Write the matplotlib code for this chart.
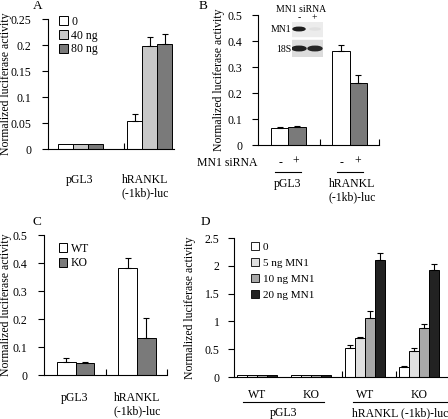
import matplotlib
matplotlib.use('Agg')
import matplotlib.pyplot as plt
from matplotlib.patches import Patch, Rectangle, Ellipse

plt.rcParams['font.family'] = ['Liberation Serif', 'DejaVu Serif']
plt.rcParams['font.size'] = 8.5

# ---- data ----
# A: MN1 dose
a_groups = ['pGL3', 'hRANKL\n(-1kb)-luc']
a_series = ['0', '40 ng', '80 ng']
a_vals = [[0.010, 0.053], [0.010, 0.199], [0.010, 0.202]]
a_err = [[0.0, 0.014], [0.0, 0.017], [0.0, 0.020]]

# B: MN1 siRNA
b_groups = ['pGL3', 'hRANKL\n(-1kb)-luc']
b_series = ['-', '+']
b_vals = [[0.065, 0.360], [0.068, 0.240]]
b_err = [[0.004, 0.026], [0.006, 0.028]]

# C: WT / KO
c_groups = ['pGL3', 'hRANKL\n(-1kb)-luc']
c_series = ['WT', 'KO']
c_vals = [[0.048, 0.382], [0.044, 0.133]]
c_err = [[0.013, 0.037], [0.004, 0.069]]

# D: WT / KO with MN1 dose
d_groups = ['WT', 'KO', 'WT', 'KO']
d_super = ['pGL3', 'hRANKL (-1kb)-luc']
d_series = ['0', '5 ng MN1', '10 ng MN1', '20 ng MN1']
d_vals = [[0.04, 0.04, 0.52, 0.18],
          [0.04, 0.04, 0.71, 0.46],
          [0.04, 0.04, 1.07, 0.88],
          [0.04, 0.04, 2.10, 1.93]]
d_err = [[0, 0, 0.05, 0.02],
         [0, 0, 0.01, 0.065],
         [0, 0, 0.11, 0.07],
         [0, 0, 0.13, 0.11]]

W, H = 448, 419
fig = plt.figure(figsize=(W / 100, H / 100), dpi=100)
fig.patch.set_facecolor('white')


def px_axes(left, top, right, bottom):
    return fig.add_axes([left / W, 1 - bottom / H, (right - left) / W, (bottom - top) / H])


def ftext(x, y, s, **kw):
    kw.setdefault('ha', 'center')
    kw.setdefault('va', 'center')
    fig.text(x / W, 1 - y / H, s, **kw)


def style(ax, ymax, step, xmax, xticks, pad, fmt):
    for s in ['top', 'right']:
        ax.spines[s].set_visible(False)
    for s in ['left', 'bottom']:
        ax.spines[s].set_linewidth(0.8)
    ax.set_xlim(0, xmax)
    ax.set_ylim(0, ymax)
    yt = [i * step for i in range(int(round(ymax / step)) + 1)]
    ax.set_yticks(yt)
    ax.set_yticklabels([fmt(v) for v in yt])
    ax.tick_params(axis='y', direction='out', length=4, width=0.8, pad=pad, labelsize=8.5)
    ax.set_xticks(xticks)
    ax.set_xticklabels([])
    ax.tick_params(axis='x', direction='in', length=4, width=0.8)


def draw_bars(ax, vals, errs, colors, centers, bw):
    n = len(vals)
    for i in range(n):
        xs = [c + (i - (n - 1) / 2) * bw for c in centers]
        ax.bar(xs, vals[i], bw, color=colors[i], edgecolor='black', linewidth=0.7, zorder=2)
        for x, v, e in zip(xs, vals[i], errs[i]):
            if e > 0:
                ax.errorbar(x, v, yerr=[[0], [e]], fmt='none', ecolor='black',
                            elinewidth=0.8, capsize=2.2, capthick=0.8, zorder=3)


def num(v):
    s = ('%.2f' % v).rstrip('0').rstrip('.')
    return s if s else '0'


# ---- A ----
axA = px_axes(48, 19, 174, 149)
style(axA, 0.25, 0.05, 126 / 76, [1], 8, num)
a_colors = ['white', '#c8c8c8', '#7a7a7a']
draw_bars(axA, a_vals, a_err, a_colors, [0.43, 1.34], 0.197)
axA.legend(handles=[Patch(facecolor=c, edgecolor='black', linewidth=0.7, label=l)
                    for c, l in zip(a_colors, a_series)],
           loc='upper left', bbox_to_anchor=(0.05, 1.06), frameon=False, fontsize=8.5,
           handlelength=0.75, handleheight=0.75, handletextpad=0.3, labelspacing=0.15,
           borderaxespad=0)
ftext(80, 180, a_groups[0])
ftext(145, 180, a_groups[1].split('\n')[0])
ftext(145, 193, a_groups[1].split('\n')[1])
ftext(38, 6, 'A', fontsize=9.5)
ftext(6, 84, 'Normalized luciferase activity', rotation=90)

# ---- B ----
axB = px_axes(258, 15, 379, 145)
style(axB, 0.5, 0.1, 121 / 62, [1, 121 / 62], 7, num)
b_colors = ['white', '#7a7a7a']
draw_bars(axB, b_vals, b_err, b_colors, [0.49, 1.48], 0.28)
ftext(219, 80, 'Normalized luciferase activity', rotation=90)
ftext(203, 6, 'B', fontsize=9.5)
ftext(257, 163, 'MN1 siRNA', ha='right')
for gx in [288, 350]:
    ftext(gx - 8, 163, b_series[0])
    ftext(gx + 8, 162, b_series[1])
    fig.add_artist(plt.Line2D([(gx - 13) / W, (gx + 13) / W], [1 - 172 / H] * 2,
                              color='black', lw=0.8))
ftext(288, 184, b_groups[0])
ftext(352, 184, b_groups[1].split('\n')[0])
ftext(352, 197, b_groups[1].split('\n')[1])

# inset blot
ftext(301, 9, 'MN1 siRNA', fontsize=7)
ftext(299, 18, '-', fontsize=7)
ftext(314, 18, '+', fontsize=7)
ftext(291, 29, 'MN1', fontsize=7, ha='right')
ftext(291, 49, '18S', fontsize=7, ha='right')
blot = px_axes(292, 22, 323, 57)
blot.set_xlim(0, 31)
blot.set_ylim(35, 0)
blot.axis('off')
blot.add_patch(Rectangle((0, 0), 31, 14, color='#ececec'))
blot.add_patch(Rectangle((0, 18), 31, 17, color='#dcdcdc'))
blot.add_patch(Ellipse((7, 7), 12, 3.5, color='#1e1e1e'))
blot.add_patch(Ellipse((23, 7), 10, 2, color='#e0e0e0'))
blot.add_patch(Ellipse((7, 26.5), 14, 4.5, color='#202020'))
blot.add_patch(Ellipse((23, 26.5), 14, 4.5, color='#262626'))

# ---- C ----
axC = px_axes(44, 235, 167, 375)
style(axC, 0.5, 0.1, 123 / 62, [1, 123 / 62], 8, num)
c_colors = ['white', '#7a7a7a']
draw_bars(axC, c_vals, c_err, c_colors, [0.51, 1.5], 0.30)
axC.legend(handles=[Patch(facecolor=c, edgecolor='black', linewidth=0.7, label=l)
                    for c, l in zip(c_colors, c_series)],
           loc='upper left', bbox_to_anchor=(0.08, 0.98), frameon=False, fontsize=8.5,
           handlelength=0.75, handleheight=0.75, handletextpad=0.3, labelspacing=0.25,
           borderaxespad=0)
ftext(75, 398, c_groups[0])
ftext(137, 398, c_groups[1].split('\n')[0])
ftext(137, 411, c_groups[1].split('\n')[1])
ftext(37, 222, 'C', fontsize=9.5)
ftext(6, 305, 'Normalized luciferase activity', rotation=90)

# ---- D ----
axD = px_axes(234, 238, 450, 377)
style(axD, 2.5, 0.5, 4, [2, 3], 6.5, num)
d_colors = ['white', '#e0e0e0', '#a8a8a8', '#222222']
draw_bars(axD, d_vals, d_err, d_colors, [0.42, 1.42, 2.42, 3.42], 0.185)
axD.legend(handles=[Patch(facecolor=c, edgecolor='black', linewidth=0.6, label=l)
                    for c, l in zip(d_colors, d_series)],
           loc='upper left', bbox_to_anchor=(0.06, 1.0), frameon=False, fontsize=8,
           handlelength=0.7, handleheight=0.7, handletextpad=0.3, labelspacing=0.55,
           borderaxespad=0)
for i, g in enumerate(d_groups):
    ftext(234 + (i + 0.42) * 54, 395, g)
for (x0, x1), s in zip([(243, 324), (353, 448)], d_super):
    fig.add_artist(plt.Line2D([x0 / W, x1 / W], [1 - 402 / H] * 2, color='black', lw=0.8))
    ftext((x0 + x1) / 2, 413, s)
ftext(205, 222, 'D', fontsize=9.5)
ftext(190, 308, 'Normalized luciferase activity', rotation=90)

fig.savefig('out.png', dpi=100)
